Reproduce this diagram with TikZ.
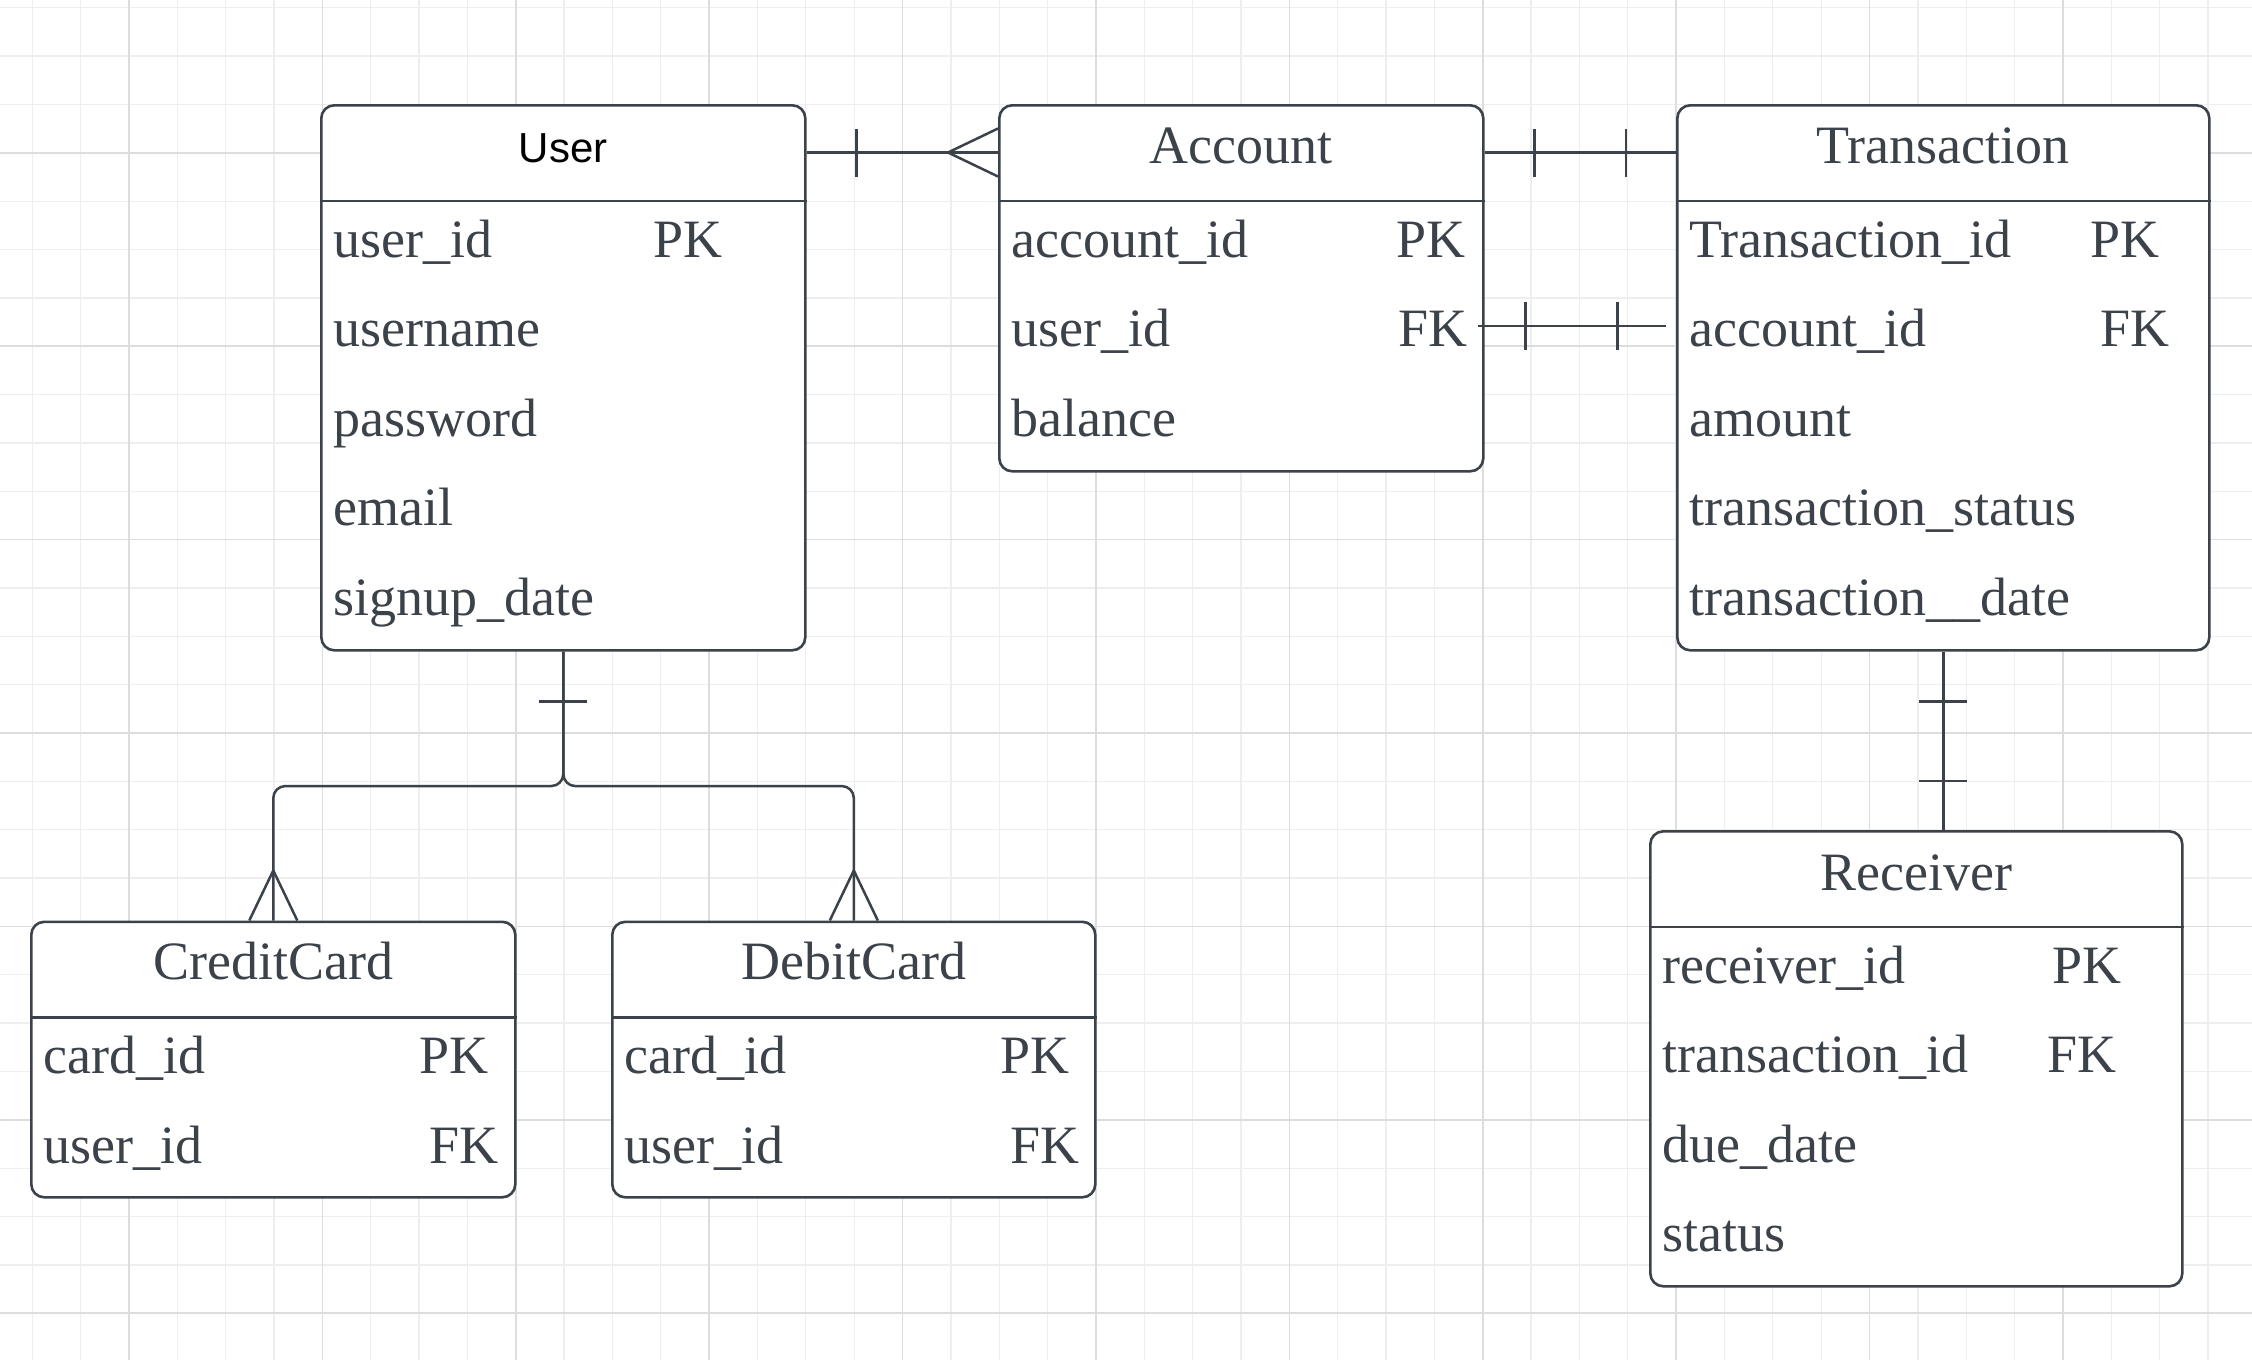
\documentclass[tikz,border=0pt]{standalone}
\usepackage{fontspec}
\setmainfont{Liberation Serif}
\newfontfamily\hdrsans{Liberation Sans}
\usetikzlibrary{calc}
\definecolor{inkc}{HTML}{3C424A}
\definecolor{gridminor}{HTML}{EEEEEE}
\definecolor{gridmajor}{HTML}{DDDDDD}

\begin{document}
\begin{tikzpicture}[x=1pt, y=-1pt,
            ent/.style={
              draw=inkc, line width=2.6pt,
              rounded corners=13pt,
              fill=white, inner sep=0pt,
              anchor=north west
            },
            ttl/.style={
              font=\fontsize{54}{60}\selectfont,
              text=inkc, anchor=base
            },
            fld/.style={
              font=\fontsize{54}{60}\selectfont,
              text=inkc, anchor=base west,
              inner sep=0pt
            },
            rel/.style={draw=inkc, line width=2.5pt},
            gminor/.style={draw=gridminor, line width=1.3pt},
            gmajor/.style={draw=gridmajor, line width=1.6pt}
        ]
\def\hh{97}
\def\rh{89.5}
\def\g{48.35}
\fill[white] (0,0) rectangle (2252,1360);
\useasboundingbox (0,0) rectangle (2252,1360);

% grid
\foreach \i in {0,...,46}
    \draw[gminor] ({32.2+\i*\g},0) -- ({32.2+\i*\g},1360);
\foreach \j in {0,...,28}
    \draw[gminor] (0,{7.75+\j*\g}) -- (2252,{7.75+\j*\g});
\foreach \i in {0,...,11}
    \draw[gmajor] ({128.9+\i*4*\g},0) -- ({128.9+\i*4*\g},1360);
\foreach \j in {0,...,6}
    \draw[gmajor] (0,{152.8+\j*4*\g}) -- (2252,{152.8+\j*4*\g});

% entities
\node[ent, minimum width=484, minimum height=545] (user) at (320,104) {};
\node[ent, minimum width=484, minimum height=366] (account) at (998,104) {};
\node[ent, minimum width=532, minimum height=545] (transaction) at (1676,104) {};
\node[ent, minimum width=532, minimum height=455] (receiver) at (1649,830) {};
\node[ent, minimum width=484, minimum height=275.5] (creditcard) at (30,920.5) {};
\node[ent, minimum width=483, minimum height=275.5] (debitcard) at (611,920.5) {};

\foreach \e in {user, account, transaction, receiver, creditcard, debitcard}
    \draw[rel] ($(\e.north west)+(0,\hh)$) -- ($(\e.north east)+(0,\hh)$);

% titles
\node[ttl, font=\hdrsans\fontsize{42}{48}\selectfont, text=black] (user-t) at ($(user.north)+(0,58)$) {User};
\node[ttl] (account-t) at ($(account.north)+(0,59)$) {Account};
\node[ttl] (transaction-t) at ($(transaction.north)+(0,59)$) {Transaction};
\node[ttl] (receiver-t) at ($(receiver.north)+(0,60)$) {Receiver};
\node[ttl] (creditcard-t) at ($(creditcard.north)+(0,59)$) {CreditCard};
\node[ttl] (debitcard-t) at ($(debitcard.north)+(0,59)$) {DebitCard};

% fields
\foreach \f [count=\i from 0] in {user\_id, username, password, email, signup\_date}
    \node[fld] at ($(user.north west)+(13,{\hh+56+\i*\rh})$) {\f};
\foreach \f [count=\i from 0] in {account\_id, user\_id, balance}
    \node[fld] at ($(account.north west)+(13,{\hh+56+\i*\rh})$) {\f};
\foreach \f [count=\i from 0] in {Transaction\_id, account\_id, amount, transaction\_status, transaction\_\_date}
    \node[fld] at ($(transaction.north west)+(13,{\hh+56+\i*\rh})$) {\f};
\foreach \f [count=\i from 0] in {receiver\_id, transaction\_id, due\_date, status}
    \node[fld] at ($(receiver.north west)+(13,{\hh+56+\i*\rh})$) {\f};
\foreach \f [count=\i from 0] in {card\_id, user\_id}
    \node[fld] at ($(creditcard.north west)+(13,{\hh+56+\i*\rh})$) {\f};
\foreach \f [count=\i from 0] in {card\_id, user\_id}
    \node[fld] at ($(debitcard.north west)+(13,{\hh+56+\i*\rh})$) {\f};

% keys
\foreach \e/\dx/\i/\k in {user/333/0/PK, account/398/0/PK, account/400/1/FK,
    transaction/414/0/PK, transaction/424/1/FK, receiver/403/0/PK, receiver/398/1/FK,
    creditcard/389/0/PK, creditcard/399/1/FK, debitcard/389/0/PK, debitcard/399/1/FK}
    \node[fld] at ($(\e.north west)+(\dx,{\hh+56+\i*\rh})$) {\k};

% relations
\coordinate (ua1) at ($(user.north east)+(0,48.5)$);
\coordinate (ua2) at ($(account.north west)+(0,48.5)$);
\draw[rel] (ua1) -- (ua2);
\draw[rel] ($(ua1)+(50,-24)$) -- ($(ua1)+(50,24)$);
\draw[rel] ($(ua2)+(0,-24)$) -- ($(ua2)+(-50,0)$) -- ($(ua2)+(0,24)$);

\coordinate (at1) at ($(account.north east)+(0,48.5)$);
\coordinate (at2) at ($(transaction.north west)+(0,48.5)$);
\draw[rel] (at1) -- (at2);
\draw[rel] ($(at1)+(50,-24)$) -- ($(at1)+(50,24)$);
\draw[rel] ($(at2)+(-50,-24)$) -- ($(at2)+(-50,24)$);

\coordinate (af1) at ($(account.north east)+(-7,222)$);
\coordinate (af2) at ($(transaction.north west)+(-10.5,222)$);
\draw[rel] (af1) -- (af2);
\draw[rel] ($(af1)+(48,-24)$) -- ($(af1)+(48,24)$);
\draw[rel] ($(af2)+(-48,-24)$) -- ($(af2)+(-48,24)$);

\coordinate (tr2) at (transaction.south |- receiver.north);
\draw[rel] (transaction.south) -- (tr2);
\draw[rel] ($(transaction.south)+(-24,50)$) -- ($(transaction.south)+(24,50)$);
\draw[rel] ($(tr2)+(-24,-49)$) -- ($(tr2)+(24,-49)$);

\foreach \c in {creditcard, debitcard} {
    \draw[rel, rounded corners=12pt] (user.south)
        |- ($(user.south)!.5!(\c.north)$) -| (\c.north);
    \draw[rel] ($(\c.north)+(-24,0)$) -- ($(\c.north)+(0,-50)$) -- ($(\c.north)+(24,0)$);
}
\draw[rel] ($(user.south)+(-24,50)$) -- ($(user.south)+(24,50)$);

\end{tikzpicture}
\end{document}
